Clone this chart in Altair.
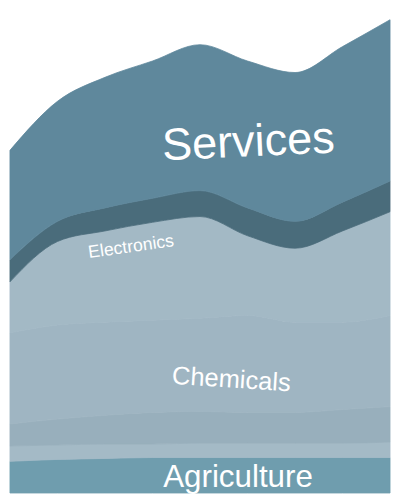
import altair as alt
import pandas as pd

# stacking order, bottom first
sectors = [
    "Agriculture",
    "Mining",
    "Textiles",
    "Chemicals",
    "Machinery",
    "Electronics",
    "Services",
]
sector_colors = [
    "#6f9dae",
    "#a4bac6",
    "#98afbc",
    "#9fb5c2",
    "#a3b9c5",
    "#4a6c7b",
    "#5f889c",
]

period = [0, 1, 2, 3, 4, 5, 6, 7, 8]

agriculture = [33, 35, 36, 37, 37, 37, 37, 37, 37]
mining = [16, 15, 15, 14, 15, 15, 15, 15, 16]
textiles = [23, 27, 30, 33, 33, 32, 32, 35, 37]
chemicals = [95, 98, 97, 96, 97, 101, 94, 91, 95]
machinery = [53, 87, 95, 102, 106, 83, 77, 95, 108]
electronics = [23, 21, 24, 25, 27, 29, 28, 30, 32]
services = [114, 125, 136, 143, 152, 153, 155, 162, 168]

series = [agriculture, mining, textiles, chemicals, machinery, electronics, services]

# label anchors in data space
label_sector = ["Services", "Electronics", "Chemicals", "Agriculture"]
label_period = [5.02, 2.55, 4.66, 4.8]
label_value = [365, 256, 118, 16]
label_size = [46, 18, 26, 32]
label_angle = [357.4, 352, 3.7, 0]


rows = []
for rank, (name, values) in enumerate(zip(sectors, series)):
    for p, v in zip(period, values):
        rows.append({"sector": name, "period": p, "value": v, "rank": rank})
frame = pd.DataFrame(rows)

labels = pd.DataFrame(
    {
        "sector": label_sector,
        "period": label_period,
        "value": label_value,
        "size": label_size,
        "angle": label_angle,
    }
)

x_scale = alt.Scale(domain=[0, 8], nice=False, padding=0)
y_scale = alt.Scale(domain=[0, 500], nice=False)
sector_scale = alt.Scale(domain=sectors, range=sector_colors)

areas = (
    alt.Chart(frame)
    .mark_area(interpolate="monotone", strokeWidth=0.8)
    .encode(
        x=alt.X("period:Q", scale=x_scale, axis=None),
        y=alt.Y("value:Q", stack="zero", scale=y_scale, axis=None),
        color=alt.Color("sector:N", scale=sector_scale, legend=None),
        stroke=alt.Stroke("sector:N", scale=sector_scale, legend=None),
        order=alt.Order("rank:Q"),
    )
)

text = (
    alt.Chart(labels)
    .mark_text(font="Liberation Sans", color="white", baseline="middle", align="center")
    .encode(
        x=alt.X("period:Q", scale=x_scale, axis=None),
        y=alt.Y("value:Q", scale=y_scale, axis=None),
        text="sector:N",
        size=alt.Size("size:Q", scale=None),
        angle=alt.Angle("angle:Q", scale=None),
    )
)

chart = (
    alt.layer(areas, text)
    .properties(
        width=392,
        height=492,
        padding=0,
        autosize=alt.AutoSizeParams(type="fit", contains="padding"),
    )
    .configure_view(strokeWidth=0)
)

chart.save("out.html", embed_options={"renderer": "svg", "actions": False})
